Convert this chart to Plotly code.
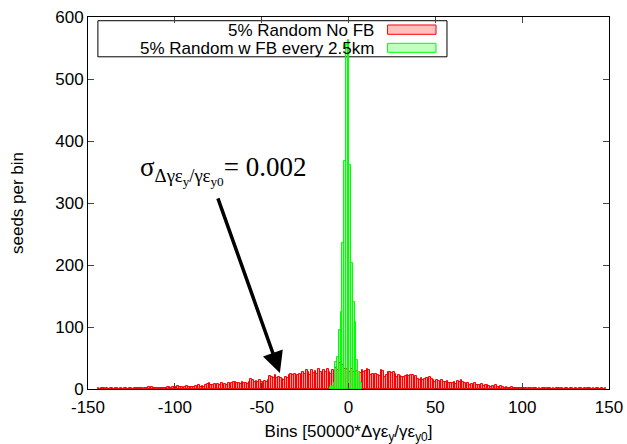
import plotly.graph_objects as go

# ---- data ----
red_start = -144  # first bin centre of the "No FB" histogram
red_counts = [
    1, 0, 1, 1, 0, 1, 0, 1, 1, 0, 1, 1, 0, 1, 0, 1, 1, 0, 1, 1, 0, 1, 1, 2, 1, 1, 0, 1,   # -144..-117
    2, 3, 2, 3, 2, 2, 1,                      # -116..-110
    1, 2, 1, 1, 2, 3, 3, 2, 3,                # -109..-101
    4, 3, 5, 3, 4, 2, 3, 5, 4, 3,             # -100..-91
    4, 3, 5, 4, 6, 3, 5, 4, 6,                # -90..-82
    8, 9, 6, 7, 8, 5,                         # -81..-76
    8, 7, 9, 6, 8, 7, 9, 6, 10,               # -75..-67
    12, 11, 9,                                # -66..-64
    10, 8, 11, 9, 10, 8, 11,                  # -63..-57
    16, 15, 12,                               # -56..-54
    13, 11, 14, 12, 10, 13, 11, 14,           # -53..-46
    21, 20, 18, 22,                           # -45..-42
    17, 19, 18, 16,                           # -41..-38
    15, 19, 18, 22,                           # -37..-34
    25, 22, 24, 20, 23, 25, 21,               # -33..-27
    28, 24, 30, 27, 22, 31, 26, 29, 24, 32, 28, 25,   # -26..-15
    30, 27, 33, 28, 25, 31, 29, 34, 30, 42, 36, 38, 33, 32,  # -14..-1
    30, 28, 33, 27, 31, 29,                   # 0..5
    28, 26, 30, 27, 29,                       # 6..10
    32, 30,                                   # 11..12
    22, 25, 20, 24, 23, 21,                   # 13..18
    30, 29,                                   # 19..20
    20, 22,                                   # 21..22
    28, 27, 26, 28, 25,                       # 23..27
    20, 22, 21, 19, 20, 21,                   # 28..33
    22, 21, 23, 22, 20, 21,                   # 34..39
    16, 15, 17, 14, 16,                       # 40..44
    18, 17, 19, 16,                           # 45..48
    14, 12, 15, 13, 12, 14,                   # 49..54
    12, 11, 13, 10,                           # 55..58
    10, 9, 11, 8,                             # 59..62
    13, 12, 14, 11,                           # 63..66
    9, 8, 10, 7,                              # 67..70
    8, 7, 9, 6,                               # 71..74
    7, 6, 8, 5, 7, 6, 5,                      # 75..81
    4, 5, 3, 6, 4, 3, 5, 4,                   # 82..89
    2, 3, 1, 2, 3, 1, 2, 1, 2, 1, 1, 2,       # 90..101
    1, 0, 1, 1, 0, 1, 1, 0, 1, 0, 1, 1, 0, 1, 1, 0, 1, 0, 1, 1, 0, 1, 0, 1,
    1, 0, 1, 1, 0, 1, 0, 1, 1, 0, 1, 0, 1, 1, 0, 1, 0, 1, 1, 0, 1, 0, 1,
]
red_x = [red_start + i for i in range(len(red_counts))]

green_x = [-10, -9, -8, -7, -6, -5, -4, -3, -2, -1, 0, 1, 2, 3, 4, 5, 6, 7]
green_counts = [3, 5, 10, 44, 52, 95, 125, 235, 367, 555, 563, 361, 203, 141, 108, 47, 27, 10]

legend_labels = ["5% Random No FB", "5% Random w FB every 2.5km"]
x_ticks = [-150, -100, -50, 0, 50, 100, 150]
x_ticktext = ["-150", "-100", "-50", "0", "50", "100", "150"]
y_ticks = [0, 100, 200, 300, 400, 500, 600]

FONT = "Liberation Sans, Arial, sans-serif"

fig = go.Figure()
fig.add_trace(go.Bar(x=red_x, y=red_counts, width=1,
                     marker=dict(color="rgba(255,0,0,0.4)", line=dict(color="#ff0000", width=1)),
                     name=legend_labels[0], showlegend=False))
fig.add_trace(go.Bar(x=green_x, y=green_counts, width=1,
                     marker=dict(color="rgba(0,255,0,0.35)", line=dict(color="#00ff00", width=1)),
                     name=legend_labels[1], showlegend=False))

fig.update_layout(
    width=627, height=444,
    margin=dict(l=88, r=18, t=17, b=55),
    plot_bgcolor="white", paper_bgcolor="white",
    barmode="overlay", bargap=0,
    font=dict(family=FONT, size=17, color="black"),
    xaxis=dict(range=[-150, 150], tickvals=x_ticks, ticktext=x_ticktext,
               ticks="inside", ticklen=6, ticklabelstandoff=3, automargin=False,
               showline=True, linecolor="black", linewidth=1, mirror="ticks",
               showgrid=False, zeroline=False,
               title=dict(text="Bins [50000*Δγε<sub>y</sub>/γε<sub>y0</sub>]",
                          font=dict(size=17), standoff=9)),
    yaxis=dict(range=[0, 600], tickvals=y_ticks, ticks="inside", ticklen=6,
               automargin=False,
               showline=True, linecolor="black", linewidth=1, mirror="ticks",
               showgrid=False, zeroline=False,
               title=dict(text="seeds per bin", font=dict(size=17), standoff=27)),
)

# manual legend (text right-aligned, sample box on the right)
fig.add_shape(type="rect", xref="paper", yref="paper", x0=0.019, x1=0.689, y0=0.893, y1=0.990,
              line=dict(color="black", width=1), fillcolor="rgba(0,0,0,0)", layer="below")
fig.add_shape(type="rect", xref="paper", yref="paper", x0=0.575, x1=0.668, y0=0.9535, y1=0.9785,
              line=dict(color="#ff0000", width=1), fillcolor="#ffc0c0")
fig.add_shape(type="rect", xref="paper", yref="paper", x0=0.575, x1=0.668, y0=0.9051, y1=0.9293,
              line=dict(color="#00ff00", width=1), fillcolor="#c0ffc0")
fig.add_annotation(xref="paper", yref="paper", x=0.553, y=0.9637, text=legend_labels[0],
                   showarrow=False, xanchor="right", yanchor="middle", font=dict(size=17))
fig.add_annotation(xref="paper", yref="paper", x=0.553, y=0.9153, text=legend_labels[1],
                   showarrow=False, xanchor="right", yanchor="middle", font=dict(size=17))

# sigma label and arrow
fig.add_annotation(x=-121.5, y=353, xref="x", yref="y",
                   text="σ<sub>Δγε<sub>y</sub>/γε<sub>y0</sub></sub>= 0.002",
                   showarrow=False, xanchor="left", yanchor="middle",
                   font=dict(family="Liberation Serif, Times New Roman, serif", size=27))
fig.add_annotation(x=-39.5, y=26, xref="x", yref="y", ax=-75.5, ay=310, axref="x", ayref="y",
                   text="", showarrow=True, arrowhead=2, arrowsize=1.2, arrowwidth=3.5,
                   arrowcolor="black")

fig.write_html("out.html")
